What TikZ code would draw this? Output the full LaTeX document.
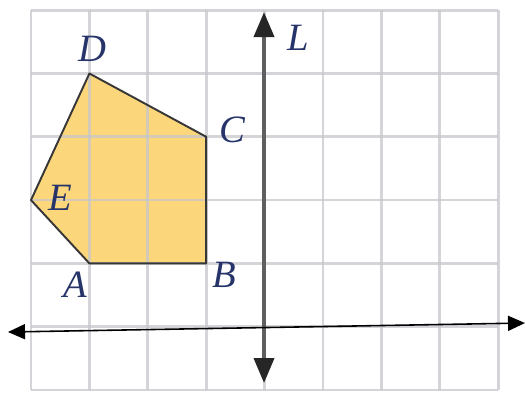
\documentclass[tikz,border=0pt]{standalone}
\usepackage{xcolor}
\usepackage{fontspec}
\usepackage{tikz}
\usetikzlibrary{arrows.meta, positioning, calc}
\newfontfamily\labelfont{Liberation Serif}
\definecolor{gridgray}{RGB}{198, 198, 204}
\definecolor{shapefill}{RGB}{252, 214, 122}
\definecolor{edgegray}{RGB}{55, 55, 55}
\definecolor{axisgray}{RGB}{95, 95, 95}
\definecolor{labelblue}{RGB}{38, 52, 105}

\begin{document}
\begin{tikzpicture}[
    x=1.168cm, y=1.266cm,
    gridline/.style={draw=gridgray, line width=1.5pt, opacity=0.75},
    pentagon/.style={draw=edgegray, line width=1.1pt, line join=round},
    mirror/.style={draw=axisgray, line width=2.2pt,
                   {Triangle[length=0.5cm, width=0.4cm, color=black!85]}-{Triangle[length=0.5cm, width=0.4cm, color=black!85]}},
    thinline/.style={draw=black, line width=0.9pt,
                     {Triangle[length=0.34cm, width=0.3cm]}-{Triangle[length=0.34cm, width=0.3cm]}},
    lbl/.style={text=labelblue, font=\labelfont\fontsize{22}{24}\selectfont\itshape, inner sep=0pt}
]
    \useasboundingbox (-0.62cm,-0.04cm) rectangle (9.88cm,7.8cm);

    % polygon corners
    \coordinate (A) at (1,2);
    \coordinate (B) at (3,2);
    \coordinate (C) at (3,4);
    \coordinate (D) at (1,5);
    \coordinate (E) at (0,3);

    \fill[shapefill] (A) -- (B) -- (C) -- (D) -- (E) -- cycle;

    % grid
    \foreach \i in {0,...,8}
        \draw[gridline] (\i,0) -- (\i,6);
    \foreach \j in {0,...,6}
        \draw[gridline] (0,\j) -- (8,\j);

    \draw[pentagon] (A) -- (B) -- (C) -- (D) -- (E) -- cycle;

    % lines
    \coordinate (Ltop) at (3.99,5.97);
    \coordinate (Lbot) at (3.99,0.11);
    \coordinate (Mleft) at (-0.394,0.916);
    \coordinate (Mright) at (8.459,1.058);
    \draw[mirror] (Lbot) -- (Ltop);
    \draw[thinline] (Mleft) -- (Mright);

    % labels
    \node[lbl] (labD) at (1.045,5.387) {D};
    \node[lbl] (labC) at (3.442,4.107) {C};
    \node[lbl] (labE) at (0.497,3.033) {E};
    \node[lbl] (labA) at (0.753,1.659) {A};
    \node[lbl] (labB) at (3.305,1.817) {B};
    \node[lbl] (labL) at (4.572,5.561) {L};
\end{tikzpicture}
\end{document}
